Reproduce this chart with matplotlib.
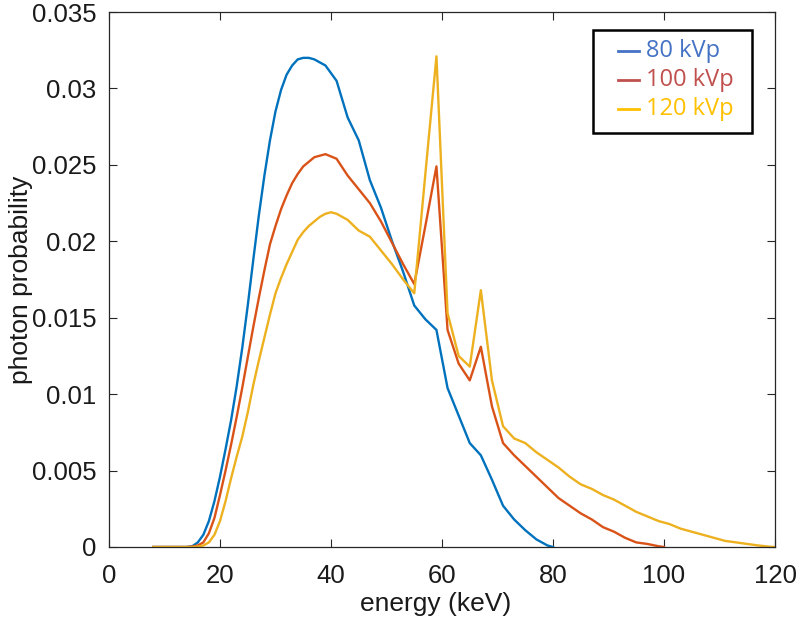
import matplotlib
matplotlib.use("Agg")
import matplotlib.pyplot as plt
from matplotlib.lines import Line2D
from matplotlib.patches import Rectangle

# energy grids (keV): 1 keV steps on the rising edge, 2 keV steps after
e80 = [8, 10, 12] + list(range(14, 37)) + list(range(37, 80, 2)) + [80]
e100 = [8, 10, 12] + list(range(14, 37)) + list(range(37, 100, 2)) + [100]
e120 = [8, 10, 12] + list(range(14, 43)) + list(range(43, 120, 2)) + [120]

p80 = [0, 0, 0,
       0, 0.00005, 0.0003, 0.0008, 0.0017, 0.0030, 0.0046, 0.0064, 0.0083,
       0.0105, 0.0130, 0.0158, 0.0188, 0.0217, 0.0243, 0.0266, 0.0285, 0.0299,
       0.0309, 0.0315, 0.0319, 0.0320, 0.0320,
       0.0319, 0.0315, 0.0305, 0.0281, 0.0266, 0.0240, 0.0222, 0.0200, 0.0180,
       0.0158, 0.0149, 0.0142, 0.0104, 0.0086, 0.0068, 0.0060, 0.0044, 0.0027,
       0.0018, 0.0011, 0.0005, 0.0001, 0]
p100 = [0, 0, 0,
        0, 0.00003, 0.0001, 0.0003, 0.0009, 0.0019, 0.0034, 0.0050, 0.0067,
        0.0085, 0.0104, 0.0124, 0.0144, 0.0163, 0.0181, 0.0198, 0.0210, 0.0221,
        0.0230, 0.0238, 0.0244, 0.0249, 0.0252,
        0.0255, 0.0257, 0.0254, 0.0243, 0.0234, 0.0225, 0.0213, 0.0199, 0.0185,
        0.0172, 0.0210, 0.0249, 0.0142, 0.0120, 0.0109, 0.0131, 0.0092, 0.0068,
        0.0060, 0.0053, 0.0046, 0.0039, 0.0032, 0.0027, 0.0022, 0.0018, 0.0013,
        0.0010, 0.0006, 0.0003, 0.0002, 0.00005, 0]
p120 = [0, 0, 0,
        0, 0, 0.00003, 0.0001, 0.0003, 0.0008, 0.0017, 0.0030, 0.0045, 0.0059,
        0.0072, 0.0088, 0.0106, 0.0122, 0.0137, 0.0152, 0.0166, 0.0176, 0.0185,
        0.0193, 0.0201, 0.0206, 0.0210, 0.0213, 0.0216, 0.0218, 0.0219, 0.0218,
        0.0216,
        0.0214, 0.0207, 0.0203, 0.0194, 0.0185, 0.0175, 0.0166, 0.0244, 0.0321,
        0.0153, 0.0125, 0.0118, 0.0168, 0.0109, 0.0079, 0.0071, 0.0068, 0.0062,
        0.0057, 0.0052, 0.0046, 0.0041, 0.0038, 0.0034, 0.0031, 0.0027, 0.0023,
        0.0020, 0.0017, 0.0015, 0.0012, 0.0010, 0.0008, 0.0006, 0.0004, 0.0003,
        0.0002, 0.0001, 0.00002, 0]

labels = ["80 kVp", "100 kVp", "120 kVp"]
line_colors = ["#0072BD", "#D95319", "#EDB120"]
text_colors = ["#4472C4", "#C0504D", "#FFC000"]

xticks = [0, 20, 40, 60, 80, 100, 120]
yticks = [0, 0.005, 0.01, 0.015, 0.02, 0.025, 0.03, 0.035]
yticklabels = ["0", "0.005", "0.01", "0.015", "0.02", "0.025", "0.03", "0.035"]

plt.rcParams['font.family'] = ['Liberation Sans', 'DejaVu Sans']

fig = plt.figure(figsize=(8, 6.32), dpi=100)
W, H = 800, 632
ax = fig.add_axes([109 / W, 1 - 547 / H, 666 / W, 535 / H])

axc = "#262626"
for e, p, c in zip([e80, e100, e120], [p80, p100, p120], line_colors):
    ax.plot(e, p, color=c, lw=1.7, solid_joinstyle='round')

ax.set_xlim(0, 120)
ax.set_ylim(0, 0.035)
ax.set_xticks(xticks)
ax.set_yticks(yticks)
ax.set_xticklabels([str(t) for t in xticks])
ax.set_yticklabels(yticklabels)
ax.tick_params(direction='in', length=6, width=0.8, color=axc, labelcolor='#1a1a1a',
               labelsize=18.5, top=True, right=True)
ax.tick_params(axis='x', pad=12)
ax.tick_params(axis='y', pad=9)
for s in ax.spines.values():
    s.set_color(axc)
    s.set_linewidth(0.9)
ax.set_xlabel("energy (keV)", fontsize=19, color='#1a1a1a')
ax.set_ylabel("photon probability", fontsize=19, color='#1a1a1a')
# label anchors: top edge of xlabel, right edge of the rotated ylabel
ax.xaxis.set_label_coords((436 - 109) / 666, (547 - 592) / 535)
ax.yaxis.set_label_coords((33 - 109) / 666, (547 - 280) / 535)

# legend box drawn in figure pixels
fig.patches.append(Rectangle((593 / W, 1 - 133 / H), 159 / W, 103 / H,
                             transform=fig.transFigure, fill=False,
                             edgecolor='black', lw=1.8, zorder=5))
row_y = [51, 80, 109]
for lab, c, y in zip(labels, text_colors, row_y):
    fig.lines.append(Line2D([618 / W, 639 / W], [1 - y / H, 1 - y / H],
                            transform=fig.transFigure, color=c, lw=2))
    fig.text(646 / W, 1 - y / H, lab, color=c, fontsize=17,
             family=['Open Sans', 'DejaVu Sans'], va='center', ha='left')

fig.savefig("out.png", dpi=100)
